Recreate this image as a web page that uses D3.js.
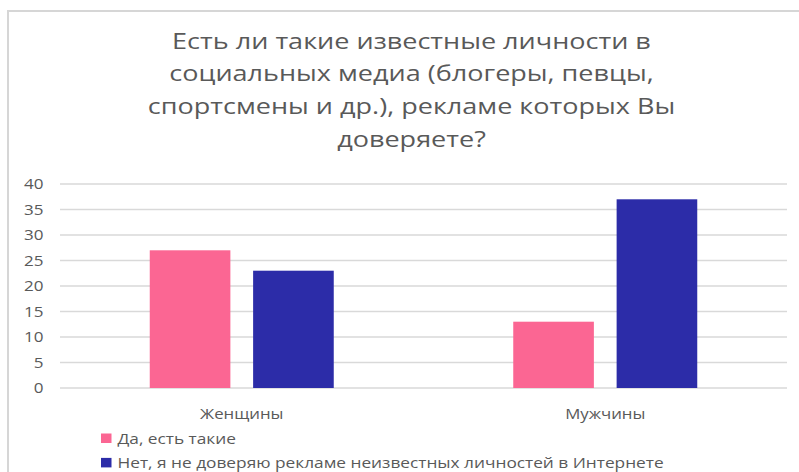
<!DOCTYPE html>
<html>
<head>
<meta charset="utf-8">
<script src="https://cdn.jsdelivr.net/npm/d3@7"></script>
<style>
  html, body { margin: 0; padding: 0; background: #fff; }
  svg { display: block; font-family: "Open Sans", "Noto Sans", sans-serif; }
</style>
</head>
<body>
<svg id="chart" width="799" height="472"></svg>
<script>
// Survey answers by gender
const categories = ["Женщины", "Мужчины"];
const seriesNames = ["Да, есть такие", "Нет, я не доверяю рекламе неизвестных личностей в Интернете"];
const seriesYes = [27, 13];
const seriesNo = [23, 37];
const yTicks = [0, 5, 10, 15, 20, 25, 30, 35, 40];
const titleLines = [
  "Есть ли такие известные личности в",
  "социальных медиа (блогеры, певцы,",
  "спортсмены и др.), рекламе которых Вы",
  "доверяете?"
];
const colors = ["#fb6693", "#2c2ca8"];

const svg = d3.select("#chart");
const W = 799, H = 472;
const margin = { left: 60, right: 12, top: 184, bottom: 84 };
// wide lettering used throughout the chart
const STRETCH = 1.2;
const TITLE_STRETCH = 1.24;
const textColor = "#595959";

// chart frame
svg.append("rect")
  .attr("x", 8).attr("y", 11)
  .attr("width", W + 10).attr("height", H + 10)
  .attr("fill", "#fff")
  .attr("stroke", "#d6d6d6")
  .attr("stroke-width", 2);

// title
svg.append("g")
  .selectAll("g")
  .data(titleLines)
  .join("g")
  .attr("transform", (d, i) => `translate(411.5,${48.8 + i * 32.6}) scale(${TITLE_STRETCH},1)`)
  .append("text")
  .attr("text-anchor", "middle")
  .attr("fill", textColor)
  .attr("font-size", 21.8)
  .text(d => d);

const x0 = d3.scaleBand()
  .domain(categories)
  .range([margin.left, W - margin.right])
  .paddingInner(0)
  .paddingOuter(0);

const groupWidth = 184;
const x1 = d3.scaleBand()
  .domain([0, 1])
  .range([-groupWidth / 2, groupWidth / 2])
  .paddingInner(0.22)
  .paddingOuter(0);

const y = d3.scaleLinear()
  .domain([0, 40])
  .range([H - margin.bottom, margin.top]);

// gridlines
svg.append("g")
  .selectAll("line")
  .data(yTicks)
  .join("line")
  .attr("x1", margin.left)
  .attr("x2", W - margin.right)
  .attr("y1", d => y(d))
  .attr("y2", d => y(d))
  .attr("stroke", "#d9d9d9")
  .attr("stroke-width", 1.3);

// y axis labels
const yAxis = d3.axisLeft(y).tickValues(yTicks).tickSize(0).tickPadding(0);
const gy = svg.append("g")
  .attr("transform", `translate(43.5,0)`)
  .call(yAxis);
gy.select(".domain").remove();
gy.selectAll("text")
  .attr("fill", textColor)
  .attr("font-size", 14.2)
  .attr("font-family", "Open Sans, sans-serif")
  .attr("transform", `scale(${STRETCH},1)`);

// bars
const rows = categories.map((c, i) => ({ cat: c, values: [seriesYes[i], seriesNo[i]] }));
svg.append("g")
  .selectAll("g")
  .data(rows)
  .join("g")
  .attr("transform", d => `translate(${x0(d.cat) + x0.bandwidth() / 2},0)`)
  .selectAll("rect")
  .data(d => d.values.map((v, k) => ({ v, k })))
  .join("rect")
  .attr("x", d => x1(d.k))
  .attr("width", x1.bandwidth())
  .attr("y", d => y(d.v))
  .attr("height", d => y(0) - y(d.v))
  .attr("fill", d => colors[d.k]);

// category axis labels
const xAxis = d3.axisBottom(x0).tickSize(0).tickPadding(0);
const gx = svg.append("g")
  .attr("transform", `translate(0,${y(0) + 30.5})`)
  .call(xAxis);
gx.select(".domain").remove();
gx.selectAll("text")
  .attr("dy", 0)
  .attr("fill", textColor)
  .attr("font-size", 14)
  .attr("font-family", "Open Sans, sans-serif")
  .attr("transform", `scale(${STRETCH},1)`);

// legend
const legend = svg.append("g")
  .selectAll("g")
  .data(seriesNames)
  .join("g")
  .attr("transform", (d, i) => `translate(101,${433.5 + i * 24.4})`);
legend.append("rect")
  .attr("width", 10.5).attr("height", 9.5)
  .attr("fill", (d, i) => colors[i]);
legend.append("g")
  .attr("transform", `translate(16.5,10.5) scale(${STRETCH},1)`)
  .append("text")
  .attr("fill", textColor)
  .attr("font-size", 14.4)
  .text(d => d);
</script>
</body>
</html>
